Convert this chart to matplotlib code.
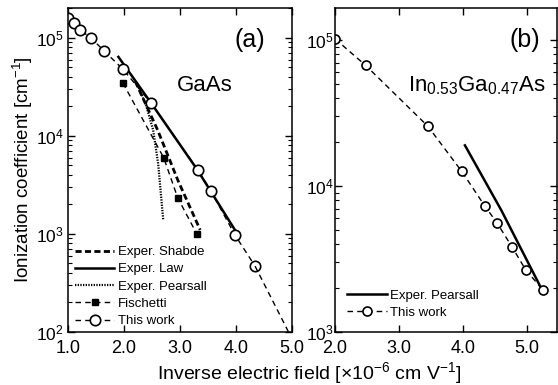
import matplotlib
matplotlib.use("Agg")
import matplotlib.pyplot as plt
from matplotlib.ticker import LogLocator, NullFormatter, FixedLocator

plt.rcParams['font.family'] = ['Liberation Sans', 'DejaVu Sans']
plt.rcParams['mathtext.fontset'] = 'custom'
plt.rcParams['mathtext.rm'] = 'Liberation Sans'
plt.rcParams['mathtext.it'] = 'Liberation Sans:italic'

# panel (a): GaAs
gaas_work_x = [1.0, 1.11, 1.21, 1.41, 1.64, 1.98, 2.48, 3.32, 3.55, 3.98, 4.34]
gaas_work_y = [1.6e5, 1.42e5, 1.21e5, 1.0e5, 7.4e4, 4.8e4, 2.17e4, 4.5e3, 2.75e3, 980, 470]
gaas_tail_x = [4.34, 4.97]
gaas_tail_y = [470, 92]
law_x = [1.9, 2.5, 3.3, 3.98]
law_y = [6.4e4, 2.1e4, 4.6e3, 1.1e3]
shabde_x = [2.2, 2.6, 2.96, 3.36]
shabde_y = [3.6e4, 1.15e4, 3.55e3, 1.1e3]
pearsall_a_x = [2.23, 2.40, 2.52, 2.61, 2.66, 2.70]
pearsall_a_y = [3.5e4, 2.0e4, 1.15e4, 5.2e3, 2.5e3, 1.4e3]
fischetti_x = [1.98, 2.71, 2.96, 3.30]
fischetti_y = [3.47e4, 5.97e3, 2.33e3, 1.0e3]

# panel (b): InGaAs
ingaas_work_x = [2.0, 2.48, 3.45, 3.98, 4.34, 4.53, 4.77, 4.98, 5.25]
ingaas_work_y = [1.02e5, 6.7e4, 2.57e4, 1.26e4, 7.3e3, 5.6e3, 3.8e3, 2.66e3, 1.94e3]
pearsall_b_x = [4.03, 4.6, 5.22]
pearsall_b_y = [1.9e4, 6.8e3, 2.0e3]

fig = plt.figure(figsize=(5.58, 3.85), dpi=100)
ax1 = fig.add_axes([0.1219, 0.1377, 0.4014, 0.8416])
ax2 = fig.add_axes([0.6004, 0.1377, 0.398, 0.8416])

ax1.plot(shabde_x, shabde_y, color='k', lw=2.0, ls=(0, (2.2, 1.2)), label='Exper. Shabde')
ax1.plot(law_x, law_y, color='k', lw=1.8, ls='-', label='Exper. Law')
ax1.plot(pearsall_a_x, pearsall_a_y, color='k', lw=1.6, ls=(0, (0.6, 0.6)), label='Exper. Pearsall')
ax1.plot(fischetti_x, fischetti_y, color='k', lw=1.0, ls=(0, (4, 3)), marker='s',
         ms=5, mfc='k', label='Fischetti')
ax1.plot(gaas_work_x, gaas_work_y, color='k', lw=1.0, ls=(0, (4, 3)), marker='o',
         ms=7.5, mfc='white', mew=1.2, label='This work')
ax1.plot(gaas_tail_x, gaas_tail_y, color='k', lw=1.0, ls=(0, (4, 3)))

ax2.plot(pearsall_b_x, pearsall_b_y, color='k', lw=1.8, ls='-', label='Exper. Pearsall')
ax2.plot(ingaas_work_x, ingaas_work_y, color='k', lw=1.0, ls=(0, (4, 3)), marker='o',
         ms=6.5, mfc='white', mew=1.2, label='This work')

ax1.set_yscale('log')
ax2.set_yscale('log')
ax1.set_xlim(1.0, 5.0)
ax1.set_ylim(1e2, 2.02e5)
ax2.set_xlim(2.0, 5.47)
ax2.set_ylim(1e3, 1.66e5)

ax1.xaxis.set_major_locator(FixedLocator([1, 2, 3, 4, 5]))
ax2.xaxis.set_major_locator(FixedLocator([2, 3, 4, 5]))
ax1.set_xticklabels(['1.0', '2.0', '3.0', '4.0', '5.0'])
ax2.set_xticklabels(['2.0', '3.0', '4.0', '5.0'])

for ax in (ax1, ax2):
    ax.yaxis.set_major_locator(LogLocator(base=10))
    ax.yaxis.set_minor_locator(LogLocator(base=10, subs=range(2, 10)))
    ax.yaxis.set_minor_formatter(NullFormatter())
    ax.tick_params(which='both', direction='in', top=True, right=True)
    ax.tick_params(which='major', length=5, width=1)
    ax.tick_params(which='minor', length=3, width=0.8)
    ax.tick_params(axis='x', pad=6, labelsize=13)
    ax.tick_params(axis='y', labelsize=12.5)
    for s in ax.spines.values():
        s.set_linewidth(1.1)
ax1.tick_params(axis='y', pad=3)
ax2.tick_params(axis='y', pad=1)

ax1.set_ylabel('Ionization coefficient [cm$^{-1}$]', fontsize=13.5, labelpad=1)
fig.text(0.555, 0.031, 'Inverse electric field [\u00d710$^{-6}$ cm V$^{-1}$]',
         ha='center', va='center', fontsize=14)

ax1.text(0.81, 0.90, '(a)', transform=ax1.transAxes, fontsize=18, ha='center', va='center')
ax1.text(0.61, 0.762, 'GaAs', transform=ax1.transAxes, fontsize=16, ha='center', va='center')
ax2.text(0.856, 0.90, '(b)', transform=ax2.transAxes, fontsize=18, ha='center', va='center')
ax2.text(0.329, 0.76, 'In$_{0.53}$Ga$_{0.47}$As', transform=ax2.transAxes, fontsize=16,
         ha='left', va='center')

ax1.legend(loc='lower left', bbox_to_anchor=(0.03, 0.015), frameon=False, fontsize=9.5,
           handlelength=3.0, handletextpad=0.25, labelspacing=0.38, borderpad=0,
           borderaxespad=0)
ax2.legend(loc='lower left', bbox_to_anchor=(0.055, 0.04), frameon=False, fontsize=9.5,
           handlelength=3.0, handletextpad=0.25, labelspacing=0.38, borderpad=0,
           borderaxespad=0)

fig.savefig('out.png', dpi=100)
